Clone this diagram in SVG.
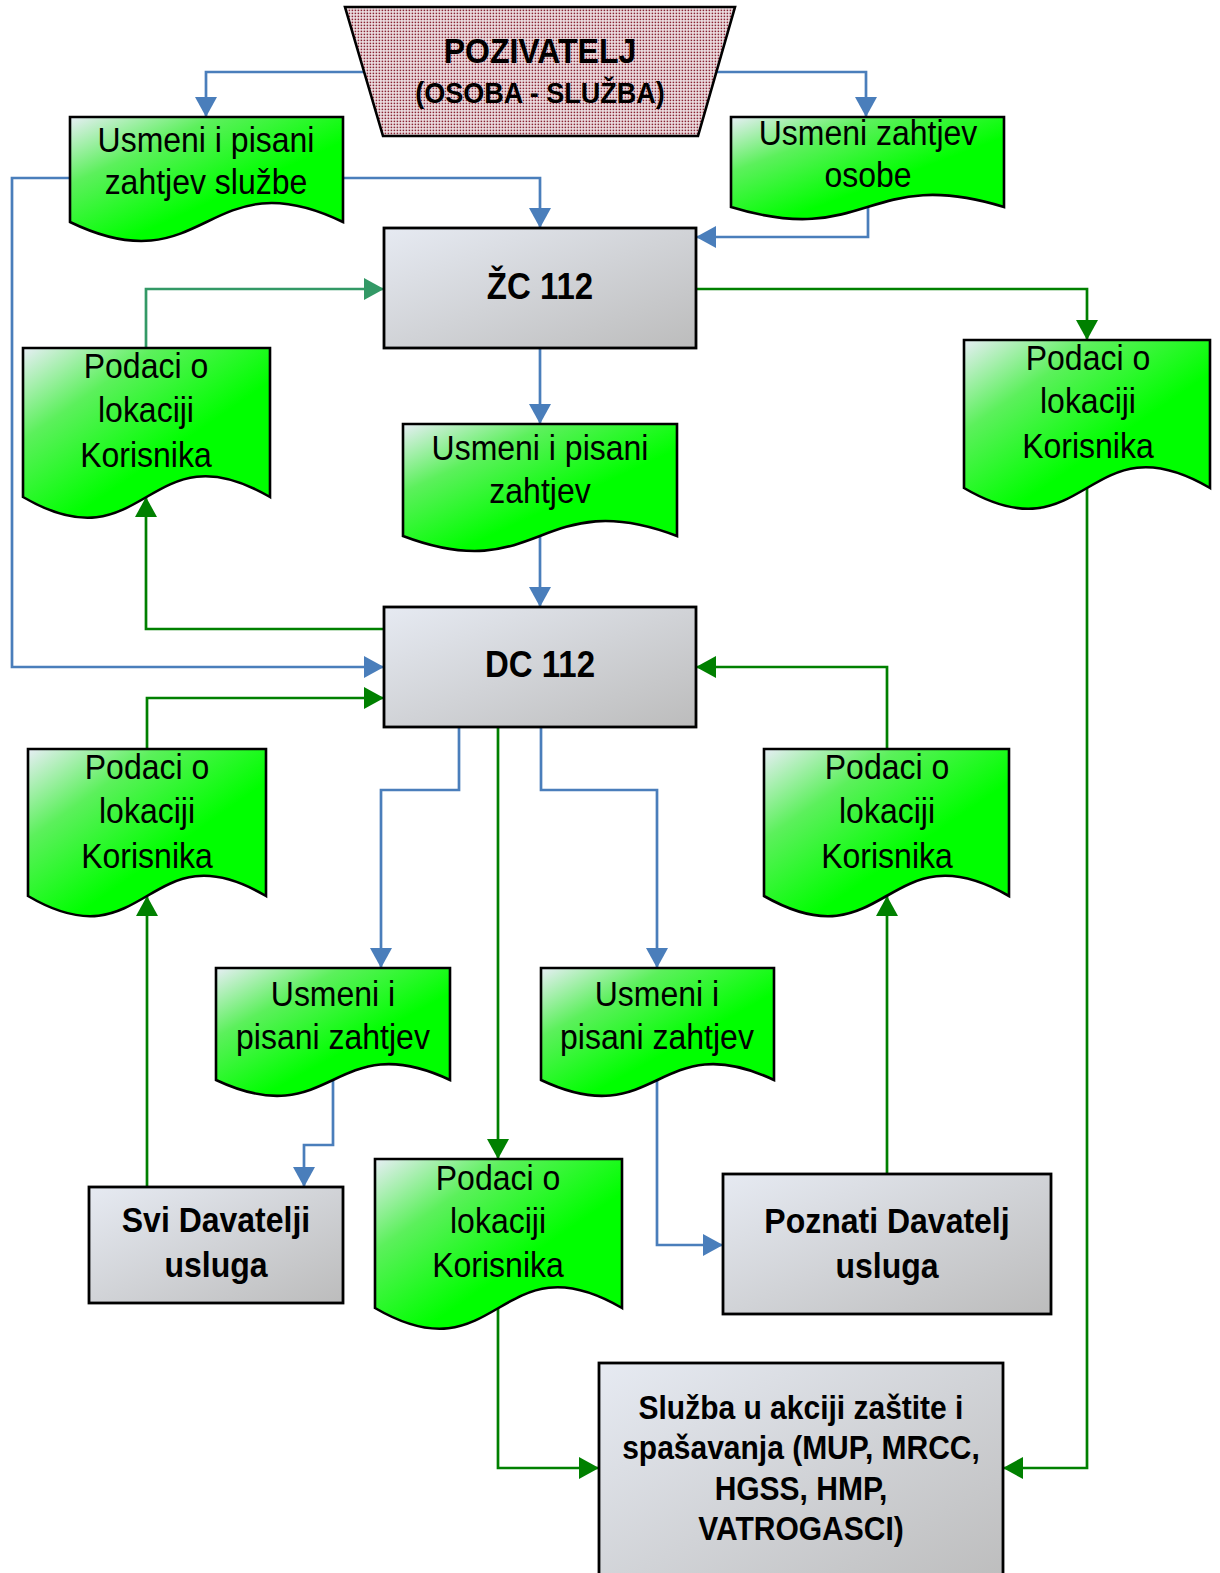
<svg xmlns="http://www.w3.org/2000/svg" width="1220" height="1573" viewBox="0 0 1220 1573">
<defs>
<pattern id="dots" width="3" height="3" patternUnits="userSpaceOnUse">
<rect width="3" height="3" fill="#f0e6e8"/>
<rect x="0.6" y="0.6" width="1.6" height="1.6" fill="#8a2434"/>
</pattern>
<linearGradient id="gDoc" x1="0" y1="0" x2="0.6" y2="0.6">
<stop offset="0" stop-color="#e8eef6"/>
<stop offset="0.45" stop-color="#5cf05c"/>
<stop offset="1" stop-color="#00ff00"/>
</linearGradient>
<linearGradient id="gBox" x1="0" y1="0" x2="1" y2="1">
<stop offset="0" stop-color="#e6eaf2"/>
<stop offset="1" stop-color="#bcbcbc"/>
</linearGradient>
<marker id="aBlue" markerUnits="userSpaceOnUse" markerWidth="20" markerHeight="22" viewBox="0 0 20 22" refX="20" refY="11" orient="auto">
<path d="M0,0 L20,11 L0,22 Z" fill="#4a7ebb"/>
</marker>
<marker id="aGreen" markerUnits="userSpaceOnUse" markerWidth="20" markerHeight="22" viewBox="0 0 20 22" refX="20" refY="11" orient="auto">
<path d="M0,0 L20,11 L0,22 Z" fill="#008000"/>
</marker>
<marker id="aTeal" markerUnits="userSpaceOnUse" markerWidth="20" markerHeight="22" viewBox="0 0 20 22" refX="20" refY="11" orient="auto">
<path d="M0,0 L20,11 L0,22 Z" fill="#339966"/>
</marker>
</defs>
<style>
.doc{fill:url(#gDoc);stroke:#000;stroke-width:2.6;stroke-linejoin:miter}
.box{fill:url(#gBox);stroke:#000;stroke-width:2.8}
.t{font-family:"Liberation Sans",Arial,sans-serif;font-size:32px;text-anchor:middle;fill:#000}
.b{font-family:"Liberation Sans",Arial,sans-serif;font-weight:bold;font-size:32px;text-anchor:middle;fill:#000}
.blue{fill:none;stroke:#4a7ebb;stroke-width:2.7;marker-end:url(#aBlue)}
.green{fill:none;stroke:#008000;stroke-width:2.7;marker-end:url(#aGreen)}
.teal{fill:none;stroke:#339966;stroke-width:2.7;marker-end:url(#aTeal)}
</style>
<rect width="1220" height="1573" fill="#fff"/>

<g id="connectors">
<polyline class="blue" points="364,72 206,72 206,117"/>
<polyline class="blue" points="716,72 866,72 866,117"/>
<polyline class="blue" points="343,178 540,178 540,228"/>
<polyline class="blue" points="868,207 868,237 696,237"/>
<polyline class="blue" points="70,178 12,178 12,667 384,667"/>
<polyline class="blue" points="540,348 540,424"/>
<polyline class="blue" points="540,536 540,607"/>
<polyline class="teal" points="146,348 146,289 384,289"/>
<polyline class="green" points="696,289 1087,289 1087,340"/>
<polyline class="green" points="384,629 146,629 146,497"/>
<polyline class="green" points="147,749 147,698 384,698"/>
<polyline class="blue" points="459,727 459,790 381,790 381,968"/>
<polyline class="green" points="498,727 498,1159"/>
<polyline class="blue" points="541,727 541,790 657,790 657,968"/>
<polyline class="green" points="887,749 887,667 696,667"/>
<polyline class="blue" points="333,1080 333,1145 304,1145 304,1187"/>
<polyline class="blue" points="657,1080 657,1245 723,1245"/>
<polyline class="green" points="147,1187 147,896"/>
<polyline class="green" points="887,1174 887,896"/>
<polyline class="green" points="498,1308 498,1468 599,1468"/>
<polyline class="green" points="1087,488 1087,1468 1003,1468"/>
</g>

<g id="pozivatelj">
<path d="M345,7 L735,7 L698,136 L383,136 Z" fill="url(#dots)" stroke="#000" stroke-width="2.6"/>
<text class="b" x="540" y="63" transform="matrix(1 0 0 1.1 0 -6.3)">POZIVATELJ</text>
<text class="b" x="540" y="103" style="font-size:27px" transform="matrix(1 0 0 1.1 0 -10.3)">(OSOBA - SLUŽBA)</text>
</g>

<g id="doc-usmeni-pisani-sluzbe">
<path class="doc" d="M70,117 H343 V222 C206.5,156 206.5,288 70,222 Z"/>
<text class="t" x="206" y="152" transform="matrix(1 0 0 1.1 0 -15.2)">Usmeni i pisani</text>
<text class="t" x="206" y="194" transform="matrix(1 0 0 1.1 0 -19.4)">zahtjev službe</text>
</g>

<g id="doc-usmeni-osobe">
<path class="doc" d="M731,117 H1004 V207 C867.5,165 867.5,249 731,207 Z"/>
<text class="t" x="868" y="145" transform="matrix(1 0 0 1.1 0 -14.5)">Usmeni zahtjev</text>
<text class="t" x="868" y="187" transform="matrix(1 0 0 1.1 0 -18.7)">osobe</text>
</g>

<g id="zc112">
<rect class="box" x="384" y="228" width="312" height="120"/>
<text class="b" x="540" y="299" style="font-size:33px" transform="matrix(1 0 0 1.1 0 -29.9)">ŽC 112</text>
</g>

<g id="doc-lokacija-1">
<path class="doc" d="M23,348 H270 V497 C146.5,425 146.5,569 23,497 Z"/>
<text class="t" x="146" y="378" transform="matrix(1 0 0 1.1 0 -37.8)">Podaci o</text>
<text class="t" x="146" y="422" transform="matrix(1 0 0 1.1 0 -42.2)">lokaciji</text>
<text class="t" x="146" y="467" transform="matrix(1 0 0 1.1 0 -46.7)">Korisnika</text>
</g>

<g id="doc-usmeni-pisani-1">
<path class="doc" d="M403,424 H677 V536 C540,484 540,588 403,536 Z"/>
<text class="t" x="540" y="460" transform="matrix(1 0 0 1.1 0 -46)">Usmeni i pisani</text>
<text class="t" x="540" y="503" transform="matrix(1 0 0 1.1 0 -50.3)">zahtjev</text>
</g>

<g id="doc-lokacija-2">
<path class="doc" d="M964,340 H1210 V488 C1087,416 1087,560 964,488 Z"/>
<text class="t" x="1088" y="370" transform="matrix(1 0 0 1.1 0 -37)">Podaci o</text>
<text class="t" x="1088" y="413" transform="matrix(1 0 0 1.1 0 -41.3)">lokaciji</text>
<text class="t" x="1088" y="458" transform="matrix(1 0 0 1.1 0 -45.8)">Korisnika</text>
</g>

<g id="dc112">
<rect class="box" x="384" y="607" width="312" height="120"/>
<text class="b" x="540" y="677" style="font-size:33px" transform="matrix(1 0 0 1.1 0 -67.7)">DC 112</text>
</g>

<g id="doc-lokacija-3">
<path class="doc" d="M28,749 H266 V896 C147,826 147,966 28,896 Z"/>
<text class="t" x="147" y="779" transform="matrix(1 0 0 1.1 0 -77.9)">Podaci o</text>
<text class="t" x="147" y="823" transform="matrix(1 0 0 1.1 0 -82.3)">lokaciji</text>
<text class="t" x="147" y="868" transform="matrix(1 0 0 1.1 0 -86.8)">Korisnika</text>
</g>

<g id="doc-lokacija-4">
<path class="doc" d="M764,749 H1009 V896 C886.5,826 886.5,966 764,896 Z"/>
<text class="t" x="887" y="779" transform="matrix(1 0 0 1.1 0 -77.9)">Podaci o</text>
<text class="t" x="887" y="823" transform="matrix(1 0 0 1.1 0 -82.3)">lokaciji</text>
<text class="t" x="887" y="868" transform="matrix(1 0 0 1.1 0 -86.8)">Korisnika</text>
</g>

<g id="doc-usmeni-pisani-2">
<path class="doc" d="M216,968 H450 V1080 C333,1025 333,1135 216,1080 Z"/>
<text class="t" x="333" y="1006" transform="matrix(1 0 0 1.1 0 -100.6)">Usmeni i</text>
<text class="t" x="333" y="1049" transform="matrix(1 0 0 1.1 0 -104.9)">pisani zahtjev</text>
</g>

<g id="doc-usmeni-pisani-3">
<path class="doc" d="M541,968 H774 V1080 C657.5,1025 657.5,1135 541,1080 Z"/>
<text class="t" x="657" y="1006" transform="matrix(1 0 0 1.1 0 -100.6)">Usmeni i</text>
<text class="t" x="657" y="1049" transform="matrix(1 0 0 1.1 0 -104.9)">pisani zahtjev</text>
</g>

<g id="doc-lokacija-5">
<path class="doc" d="M375,1159 H622 V1308 C498.5,1236 498.5,1380 375,1308 Z"/>
<text class="t" x="498" y="1190" transform="matrix(1 0 0 1.1 0 -119)">Podaci o</text>
<text class="t" x="498" y="1233" transform="matrix(1 0 0 1.1 0 -123.3)">lokaciji</text>
<text class="t" x="498" y="1277" transform="matrix(1 0 0 1.1 0 -127.7)">Korisnika</text>
</g>

<g id="svi-davatelji">
<rect class="box" x="89" y="1187" width="254" height="116"/>
<text class="b" x="216" y="1232" transform="matrix(1 0 0 1.1 0 -123.2)">Svi Davatelji</text>
<text class="b" x="216" y="1277" transform="matrix(1 0 0 1.1 0 -127.7)">usluga</text>
</g>

<g id="poznati-davatelj">
<rect class="box" x="723" y="1174" width="328" height="140"/>
<text class="b" x="887" y="1233" transform="matrix(1 0 0 1.1 0 -123.3)">Poznati Davatelj</text>
<text class="b" x="887" y="1278" transform="matrix(1 0 0 1.1 0 -127.8)">usluga</text>
</g>

<g id="sluzba">
<rect class="box" x="599" y="1363" width="404" height="230"/>
<text class="b" x="801" y="1419" style="font-size:30px" transform="matrix(1 0 0 1.1 0 -141.9)">Služba u akciji zaštite i</text>
<text class="b" x="801" y="1459" style="font-size:30px" transform="matrix(1 0 0 1.1 0 -145.9)">spašavanja (MUP, MRCC,</text>
<text class="b" x="801" y="1500" style="font-size:30px" transform="matrix(1 0 0 1.1 0 -150)">HGSS, HMP,</text>
<text class="b" x="801" y="1540" style="font-size:30px" transform="matrix(1 0 0 1.1 0 -154)">VATROGASCI)</text>
</g>
</svg>
